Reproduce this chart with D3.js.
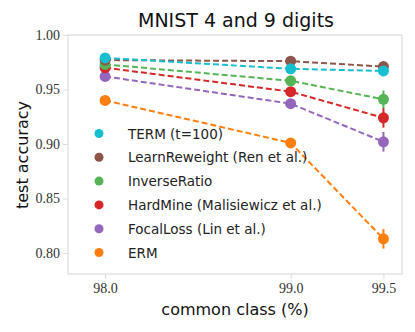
<!DOCTYPE html>
<html><head><meta charset="utf-8">
<script src="https://cdn.jsdelivr.net/npm/d3@7"></script>
<style>body{margin:0;background:#fff}svg{display:block}</style>
</head><body>
<script>
const xValues = [98.0, 99.0, 99.5];
const xTickLabels = ["98.0", "99.0", "99.5"];
const yTicks = [0.80, 0.85, 0.90, 0.95, 1.00];
const seriesNames = ["TERM (t=100)", "LearnReweight (Ren et al.)", "InverseRatio", "HardMine (Malisiewicz et al.)", "FocalLoss (Lin et al.)", "ERM"];
const seriesColors = ["#17becf", "#8c564b", "#55b455", "#d62728", "#9467bd", "#ff7f0e"];
const termVals = [0.979, 0.969, 0.967];
const termErr = [0.002, 0.002, 0.004];
const reweightVals = [0.977, 0.976, 0.971];
const reweightErr = [0.002, 0.002, 0.003];
const inverseVals = [0.973, 0.958, 0.941];
const inverseErr = [0.002, 0.004, 0.008];
const hardmineVals = [0.970, 0.948, 0.924];
const hardmineErr = [0.002, 0.002, 0.009];
const focalVals = [0.962, 0.937, 0.902];
const focalErr = [0.002, 0.002, 0.009];
const ermVals = [0.940, 0.901, 0.813];
const ermErr = [0.002, 0.002, 0.009];

const allVals = [termVals, reweightVals, inverseVals, hardmineVals, focalVals, ermVals];
const allErr = [termErr, reweightErr, inverseErr, hardmineErr, focalErr, ermErr];

const W = 415, H = 332;
const m = {left: 68, right: 13, top: 35, bottom: 58};
const svg = d3.select("body").append("svg").attr("width", W).attr("height", H);

const x = d3.scaleLinear().domain([97.8, 99.6]).range([m.left, W - m.right]);
const y = d3.scaleLinear().domain([0.7807, 1.0]).range([H - m.bottom, m.top]);

// frame
svg.append("rect").attr("x", m.left).attr("y", m.top)
  .attr("width", W - m.right - m.left).attr("height", H - m.bottom - m.top)
  .attr("fill", "none").attr("stroke", "#dcdcdc").attr("stroke-width", 1.2);

// y axis
const yAxis = d3.axisLeft(y).tickValues(yTicks).tickFormat(d3.format(".2f")).tickSize(5).tickPadding(3);
const gy = svg.append("g").attr("transform", `translate(${m.left},0)`).call(yAxis);
gy.select(".domain").remove();
gy.selectAll("line").attr("stroke", "#dcdcdc");
gy.selectAll("text").attr("font-family", "'Liberation Serif', serif").attr("font-size", 14).attr("fill", "#333");

// x axis
const xAxis = d3.axisBottom(x).tickValues(xValues).tickFormat((d, i) => xTickLabels[i]).tickSize(5).tickPadding(4);
const gx = svg.append("g").attr("transform", `translate(0,${H - m.bottom})`).call(xAxis);
gx.select(".domain").remove();
gx.selectAll("line").attr("stroke", "#dcdcdc");
gx.selectAll("text").attr("font-family", "'Liberation Serif', serif").attr("font-size", 14).attr("fill", "#333");

// title & labels
svg.append("text").attr("x", 236).attr("y", 27).attr("text-anchor", "middle")
  .attr("font-family", "'DejaVu Sans', sans-serif").attr("font-size", 19).attr("fill", "#111")
  .text("MNIST 4 and 9 digits");
svg.append("text").attr("x", 235).attr("y", 315).attr("text-anchor", "middle")
  .attr("font-family", "'DejaVu Sans', sans-serif").attr("font-size", 16).attr("fill", "#111")
  .text("common class (%)");
svg.append("text").attr("transform", "translate(28,155) rotate(-90)").attr("text-anchor", "middle")
  .attr("font-family", "'DejaVu Sans', sans-serif").attr("font-size", 16).attr("fill", "#111")
  .text("test accuracy");

// series (draw in reverse so TERM on top)
const line = d3.line().x(d => x(d[0])).y(d => y(d[1]));
for (let s = allVals.length - 1; s >= 0; s--) {
  const pts = xValues.map((xv, i) => [xv, allVals[s][i], allErr[s][i]]);
  const g = svg.append("g");
  g.append("path").datum(pts).attr("d", line).attr("fill", "none")
    .attr("stroke", seriesColors[s]).attr("stroke-width", 2).attr("stroke-dasharray", "6,3");
  g.selectAll("line.err").data(pts).enter().append("line")
    .attr("x1", d => x(d[0])).attr("x2", d => x(d[0]))
    .attr("y1", d => y(d[1] - d[2])).attr("y2", d => y(d[1] + d[2]))
    .attr("stroke", seriesColors[s]).attr("stroke-width", 2);
  g.selectAll("circle").data(pts).enter().append("circle")
    .attr("cx", d => x(d[0])).attr("cy", d => y(d[1])).attr("r", 5.5)
    .attr("fill", seriesColors[s]);
}

// legend
const leg = svg.append("g");
seriesNames.forEach((n, i) => {
  const yy = 133.5 + i * 23.8;
  leg.append("circle").attr("cx", 99).attr("cy", yy).attr("r", 4.5).attr("fill", seriesColors[i]);
  leg.append("text").attr("x", 128).attr("y", yy + 5).attr("font-family", "'DejaVu Sans', sans-serif")
    .attr("font-size", 13.5).attr("fill", "#222").text(n);
});
</script>
</body></html>
